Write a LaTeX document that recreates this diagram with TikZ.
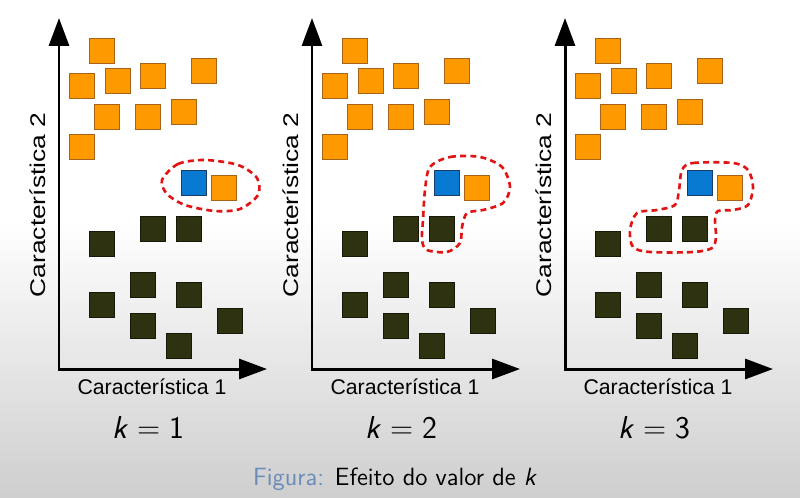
\documentclass[tikz,border=0pt]{standalone}
\usepackage{fontspec}
\newfontfamily\labelfont{Liberation Sans}
\usetikzlibrary{arrows.meta,positioning}
\definecolor{sqorange}{RGB}{255,153,0}
\definecolor{sqorangeb}{RGB}{165,100,25}
\definecolor{sqblue}{RGB}{8,122,210}
\definecolor{sqblueb}{RGB}{25,60,105}
\definecolor{sqdark}{RGB}{46,50,16}
\definecolor{sqdarkb}{RGB}{22,24,8}
\definecolor{knnred}{RGB}{225,20,20}
\definecolor{capblue}{RGB}{105,140,185}

\begin{document}
\begin{tikzpicture}[
    x=0.02cm,y=-0.02cm,
    sq/.style={rectangle,draw,line width=0.5pt,minimum size=0.5cm,inner sep=0pt},
    orsq/.style={sq,fill=sqorange,draw=sqorangeb},
    bluesq/.style={sq,fill=sqblue,draw=sqblueb},
    darksq/.style={sq,fill=sqdark,draw=sqdarkb},
    axis/.style={{Triangle[length=0.56cm,width=0.4cm]}-{Triangle[length=0.56cm,width=0.4cm]},line width=1.7pt},
    nbr/.style={knnred,line width=1.5pt,dash pattern=on 3.4pt off 2.4pt},
    axlabel/.style={font=\labelfont\fontsize{12.1}{14}\selectfont,inner sep=0pt,anchor=base},
    klabel/.style={font=\sffamily\fontsize{18}{20}\selectfont,inner sep=0pt,anchor=base}
]
% background
\fill[white] (0,0) rectangle (800,497);
\shade[top color=white,bottom color=gray!38] (0,220) rectangle (800,497);
\useasboundingbox (0,0) rectangle (800,497);

% three panels, same data
\foreach \p/\dx in {1/0,2/253,3/506}{
  \begin{scope}[shift={(\dx,0)}]
  \coordinate (O\p) at (59,369);
  \coordinate (Y\p) at (59,18);
  \coordinate (X\p) at (267,369);
  \draw[axis] (Y\p) -- (O\p) -- (X\p);

  % class A (orange)
  \node[orsq] (o\p-1) at (101.7,50.7) {};
  \node[orsq] (o\p-2) at (81.7,86) {};
  \node[orsq] (o\p-3) at (117.7,81) {};
  \node[orsq] (o\p-4) at (153.3,75.7) {};
  \node[orsq] (o\p-5) at (204,71) {};
  \node[orsq] (o\p-6) at (107.3,116.7) {};
  \node[orsq] (o\p-7) at (147.7,116.7) {};
  \node[orsq] (o\p-8) at (183.7,111.7) {};
  \node[orsq] (o\p-9) at (81.7,147.3) {};
  \node[orsq] (o\p-10) at (224.3,187.7) {};

  % new point
  \node[bluesq] (q\p) at (194,183) {};

  % class B (dark)
  \node[darksq] (d\p-1) at (102.3,244) {};
  \node[darksq] (d\p-2) at (153.3,229) {};
  \node[darksq] (d\p-3) at (189,229) {};
  \node[darksq] (d\p-4) at (143.3,285) {};
  \node[darksq] (d\p-5) at (189,295) {};
  \node[darksq] (d\p-6) at (102.3,305.3) {};
  \node[darksq] (d\p-7) at (143.3,325.7) {};
  \node[darksq] (d\p-8) at (230,320.7) {};
  \node[darksq] (d\p-9) at (178.7,346) {};

  % labels
  \node[axlabel] (lx\p) at (152,394) {Característica 1};
  \node[axlabel,rotate=90,xscale=1.24] (ly\p) at (45,205) {Característica 2};
  \node[klabel] (k\p) at (148,438) {\textit{k}\hspace{0.28em}=\hspace{0.28em}\p};
  \end{scope}
}

% neighbourhoods
\draw[nbr] plot[smooth cycle] coordinates {(162,180) (178,164) (205,160) (238,165) (257,178) (258,195) (240,209) (215,211) (185,205) (167,194)};
\draw[nbr] plot[smooth cycle] coordinates {(430,167) (450,157) (480,157) (502,167) (510,187) (503,203) (483,210) (467,213) (462,227) (460,243) (447,252) (427,250) (422,240) (423,220) (425,190)};
\draw[nbr] plot[smooth cycle] coordinates {(682,170) (693,163) (733,163) (748,170) (753,187) (748,205) (733,210) (718,211) (715,220) (716,237) (712,248) (693,252) (650,252) (633,247) (630,230) (637,213) (657,210) (675,205) (679,190)};

% caption
\node[font=\sffamily\fontsize{14.2}{16}\selectfont,inner sep=0pt,anchor=base] (cap) at (395,485)
  {\textcolor{capblue}{Figura:} Efeito do valor de \textit{k}};
\end{tikzpicture}
\end{document}
